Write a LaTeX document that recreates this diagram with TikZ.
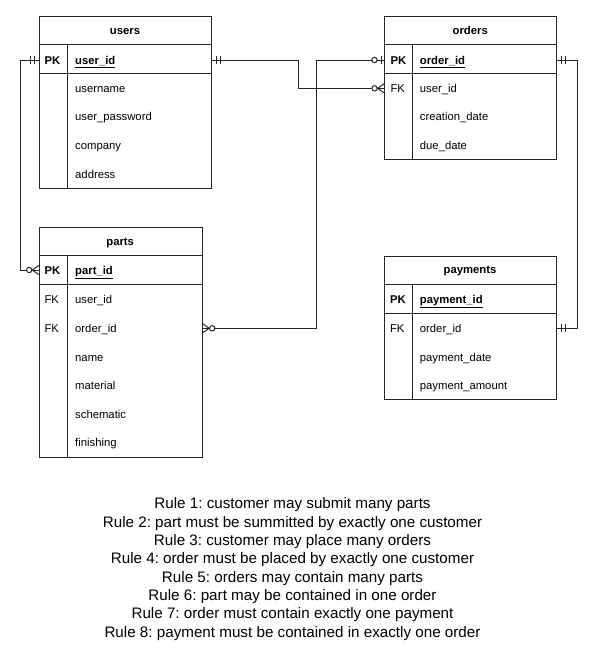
\documentclass[tikz,border=0pt]{standalone}
\usepackage{fontspec}
\setmainfont{Liberation Sans}
\frenchspacing
\tikzset{
  tbl/.style={draw=black!85, line width=1pt, inner sep=0, anchor=north west},
  tline/.style={draw=black!85, line width=1pt},
  conn/.style={draw=black!85, line width=1pt},
  hdr/.style={font=\fontsize{11.3}{13}\selectfont\bfseries, anchor=base, inner sep=0},
  keyc/.style={font=\fontsize{11.3}{13}\selectfont, anchor=base west, inner sep=0},
  fld/.style={font=\fontsize{11.3}{13}\selectfont, anchor=base west, inner sep=0},
  rule/.style={font=\fontsize{15.2}{18}\selectfont, anchor=base, inner sep=0},
  pics/erone/.style={code={\draw[conn] (4,-4)--(4,4) (8,-4)--(8,4);}},
  pics/ermany/.style={code={\draw[conn] (0,-4.5)--(6.5,0)--(0,4.5);\draw[conn,fill=white] (9.5,0) circle (2.7pt);}},
  pics/erzone/.style={code={\draw[conn] (3,-4)--(3,4);\draw[conn,fill=white] (9.5,0) circle (2.7pt);}},
}
\begin{document}
\begin{tikzpicture}[x=1pt,y=-1pt]
\useasboundingbox (0,0) rectangle (606,670);

% ---------- users ----------
\node[tbl, minimum width=172.6pt, minimum height=172.3pt] (users) at (38.7,16) {};
\draw[tline] (38.7,44.5) -- (211.3,44.5) (38.7,73.3) -- (211.3,73.3) (67.7,44.5) -- (67.7,188.3);
\node[hdr] (usersH) at (125,34.2) {users};
\node[keyc] (usersPKk) at (44.3,64) {\bfseries PK};
\node[fld] (usersPK) at (75,64) {\bfseries\underline{user\_id}};
\node[fld] (users1) at (75,92) {username};
\node[fld] (users2) at (75,120.8) {user\_password};
\node[fld] (users3) at (75,149.8) {company};
\node[fld] (users4) at (75,178.6) {address};

% ---------- orders ----------
\node[tbl, minimum width=172.3pt, minimum height=143pt] (orders) at (384,16) {};
\draw[tline] (384,44.5) -- (556.3,44.5) (384,73.3) -- (556.3,73.3) (412.3,44.5) -- (412.3,159);
\node[hdr] (ordersH) at (470.2,34.2) {orders};
\node[keyc] (ordersPKk) at (390.3,64) {\bfseries PK};
\node[fld] (ordersPK) at (419.7,64) {\bfseries\underline{order\_id}};
\node[keyc] (ordersFKk) at (390.3,92.3) {FK};
\node[fld] (orders1) at (419.7,92.3) {user\_id};
\node[fld] (orders2) at (419.7,120.8) {creation\_date};
\node[fld] (orders3) at (419.7,149.8) {due\_date};

% ---------- parts ----------
\node[tbl, minimum width=163pt, minimum height=230.3pt] (parts) at (38.7,226.7) {};
\draw[tline] (38.7,255.3) -- (201.7,255.3) (38.7,284.3) -- (201.7,284.3) (67.7,255.3) -- (67.7,457);
\node[hdr] (partsH) at (120.2,245.5) {parts};
\node[keyc] (partsPKk) at (44.3,274) {\bfseries PK};
\node[fld] (partsPK) at (75,274) {\bfseries\underline{part\_id}};
\node[keyc] (partsFK1) at (44.3,303.3) {FK};
\node[fld] (parts1) at (75,303.3) {user\_id};
\node[keyc] (partsFK2) at (44.3,332.3) {FK};
\node[fld] (parts2) at (75,332.3) {order\_id};
\node[fld] (parts3) at (75,361) {name};
\node[fld] (parts4) at (75,389.2) {material};
\node[fld] (parts5) at (75,418) {schematic};
\node[fld] (parts6) at (75,446.6) {finishing};

% ---------- payments ----------
\node[tbl, minimum width=172.6pt, minimum height=143.3pt] (payments) at (383.7,255.7) {};
\draw[tline] (383.7,284.3) -- (556.3,284.3) (383.7,313) -- (556.3,313) (412.7,284.3) -- (412.7,399);
\node[hdr] (paymentsH) at (470,273.8) {payments};
\node[keyc] (paymentsPKk) at (389.8,303.3) {\bfseries PK};
\node[fld] (paymentsPK) at (419.7,303.3) {\bfseries\underline{payment\_id}};
\node[keyc] (paymentsFKk) at (389.8,332.3) {FK};
\node[fld] (payments1) at (419.7,332.3) {order\_id};
\node[fld] (payments2) at (419.7,361) {payment\_date};
\node[fld] (payments3) at (419.7,389.2) {payment\_amount};

% ---------- connector end points ----------
\coordinate (uL) at (users.west |- 0,60);
\coordinate (uR) at (users.east |- 0,60);
\coordinate (pL) at (parts.west |- 0,270);
\coordinate (pR) at (parts.east |- 0,328.3);
\coordinate (oPKL) at (orders.west |- 0,60);
\coordinate (oFKL) at (orders.west |- 0,88.3);
\coordinate (oR) at (orders.east |- 0,60);
\coordinate (payR) at (payments.east |- 0,328.3);

% ---------- connectors ----------
\draw[conn] (uL) -- ++(-18.7,0) |- (pL);
\draw[conn] (uR) -- ++(86.4,0) |- (oFKL);
\draw[conn] (oPKL) -- ++(-67.7,0) |- (pR);
\draw[conn] (oR) -- ++(19.7,0) |- (payR);

\pic[rotate=180] at (uL) {erone};
\pic at (uR) {erone};
\pic[rotate=180] at (pL) {ermany};
\pic[rotate=180] at (oFKL) {ermany};
\pic[rotate=180] at (oPKL) {erzone};
\pic at (pR) {ermany};
\pic at (oR) {erone};
\pic at (payR) {erone};

% ---------- rules ----------
\node[rule] (rule1) at (292.5,508.7) {Rule 1: customer may submit many parts};
\node[rule] (rule2) at (292.5,527.0) {Rule 2: part must be summitted by exactly one customer};
\node[rule] (rule3) at (292.5,545.4) {Rule 3: customer may place many orders};
\node[rule] (rule4) at (292.5,563.7) {Rule 4: order must be placed by exactly one customer};
\node[rule] (rule5) at (292.5,582.1) {Rule 5: orders may contain many parts};
\node[rule] (rule6) at (292.5,600.4) {Rule 6: part may be contained in one order};
\node[rule] (rule7) at (292.5,618.7) {Rule 7: order must contain exactly one payment};
\node[rule] (rule8) at (292.5,637.1) {Rule 8: payment must be contained in exactly one order};
\end{tikzpicture}
\end{document}
